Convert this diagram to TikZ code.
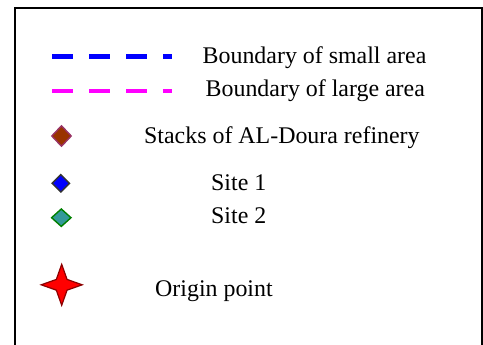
\documentclass[tikz,border=0pt]{standalone}
\usepackage{fontspec}
\setmainfont{LiberationSerif}[Extension=.ttf, UprightFont=*-Regular]
\usetikzlibrary{shapes.geometric}

\definecolor{stackfill}{RGB}{153,51,0}
\definecolor{stackedge}{RGB}{153,51,102}
\definecolor{siteonefill}{RGB}{0,0,255}
\definecolor{siteoneedge}{RGB}{51,51,51}
\definecolor{sitetwofill}{RGB}{51,153,153}
\definecolor{sitetwoedge}{RGB}{0,128,0}
\definecolor{originfill}{RGB}{255,0,0}
\definecolor{originedge}{RGB}{140,0,0}
\definecolor{smallline}{RGB}{0,0,255}
\definecolor{largeline}{RGB}{255,0,255}

\tikzset{
  legendtext/.style={anchor=base west, inner sep=0pt, font=\fontsize{23.9}{28}\selectfont},
  sampleline/.style={line width=4.6pt, dash pattern=on 21pt off 16pt, line cap=butt},
  marker/.style={diamond, inner sep=0pt, line width=1.4pt},
  originmark/.style={star, star points=4, star point ratio=2.7, minimum size=41pt,
    inner sep=0pt, fill=originfill, draw=originedge, line width=1.2pt}
}

\begin{document}
\begin{tikzpicture}[x=1pt, y=-1pt]
  \useasboundingbox (0,0) rectangle (483,345);

  % frame, open at the bottom
  \coordinate (fbl) at (14.5,345);
  \coordinate (ftl) at (14.5,8);
  \coordinate (ftr) at (481.5,8);
  \coordinate (fbr) at (481.5,345);
  \draw[line width=2pt] (fbl) -- (ftl) -- (ftr) -- (fbr);

  % line samples
  \coordinate (smallA) at (52,56.5);
  \coordinate (smallB) at (172,56.5);
  \coordinate (largeA) at (52,91);
  \coordinate (largeB) at (172,91);
  \draw[sampleline, draw=smallline] (smallA) -- (smallB);
  \draw[sampleline, draw=largeline] (largeA) -- (largeB);
  \node[legendtext] (smalltxt) at (202.5,64) {Boundary of small area};
  \node[legendtext] (largetxt) at (205.5,97) {Boundary of large area};

  % point markers
  \node[marker, minimum width=20pt, minimum height=21pt, fill=stackfill, draw=stackedge] (stack) at (61.5,136) {};
  \node[legendtext] (stacktxt) at (144,144) {Stacks of AL-Doura refinery};

  \node[marker, minimum width=18pt, minimum height=18pt, fill=siteonefill, draw=siteoneedge] (site1) at (60.8,183.3) {};
  \node[legendtext] (site1txt) at (211,190.5) {Site 1};

  \node[marker, minimum width=20pt, minimum height=18pt, fill=sitetwofill, draw=sitetwoedge] (site2) at (61.3,217.7) {};
  \node[legendtext] (site2txt) at (211,223.5) {Site 2};

  \node[originmark] (origin) at (61.7,284.8) {};
  \node[legendtext] (origintxt) at (155,296) {Origin point};
\end{tikzpicture}
\end{document}
